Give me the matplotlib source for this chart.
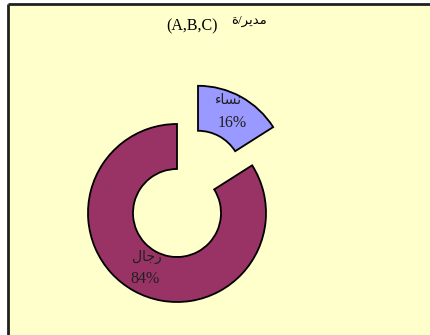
import matplotlib
matplotlib.use('Agg')
import matplotlib.pyplot as plt
from matplotlib.patches import Rectangle

# data (women first, drawn clockwise from 12 o'clock)
labels = ['\uFE80\uFE8E\uFEB4\uFEE7', '\uFEDD\uFE8E\uFE9F\uFEAD']   # نساء , رجال (visual order)
values = [16, 84]
colors = ['#9999FF', '#993366']
explode = [0.49, 0]
title_latin = '(A,B,C)'
title_ar = '\uFE93/\uFEAE\uFEF3\uFEAA\uFEE3'   # مدير/ة

W, H = 431, 335
CX, CY, R = 177, 213, 89.0

def px(x, y):
    # pixel position -> data units (pie radius = 1)
    return (x - CX) / R, (CY - y) / R

fam = ['Liberation Serif', 'DejaVu Sans']

fig = plt.figure(figsize=(W / 100, H / 100), dpi=100)
fig.patch.set_facecolor('white')
ax = fig.add_axes([0, 0, 1, 1])
x0, y1 = px(0, 0)
x1, y0 = px(W, H)

# chart area background with top/left border
bx, by = px(7.5, H)
ax.add_patch(Rectangle((bx, by), (W - 7.5) / R, (H - 3.5) / R,
                       facecolor='#FFFFCC', edgecolor='none', zorder=0))
tl = px(7.5, 3.5)
ax.plot([tl[0], x1 + 1], [tl[1], tl[1]], color='#202020', lw=2, zorder=1, solid_capstyle='butt')
ax.plot([tl[0], tl[0]], [tl[1], y0 - 1], color='#202020', lw=2, zorder=1, solid_capstyle='butt')

ax.pie(values, colors=colors, explode=explode, startangle=90, counterclock=False,
       radius=1, center=(0, 0),
       wedgeprops=dict(width=45 / R, edgecolor='black', linewidth=1.3))
ax.set_xlim(x0, x1)
ax.set_ylim(y0, y1)
ax.set_aspect('equal')
ax.axis('off')

# labels
ax.text(*px(228, 101), labels[0], ha='center', va='center', fontsize=10, family=fam, color='#202020')
ax.text(*px(232, 123), f'{values[0]}%', ha='center', va='center', fontsize=11.5, family=fam, color='#202020')
ax.text(*px(147, 257), labels[1], ha='center', va='center', fontsize=10, family=fam, color='#202020')
ax.text(*px(145, 279), f'{values[1]}%', ha='center', va='center', fontsize=11.5, family=fam, color='#202020')

# title
ax.text(*px(192, 26), title_latin, ha='center', va='center', fontsize=11.5, family=fam)
ax.text(*px(249, 21), title_ar, ha='center', va='center', fontsize=9.5, family=fam)

fig.savefig('out.png', dpi=100)
